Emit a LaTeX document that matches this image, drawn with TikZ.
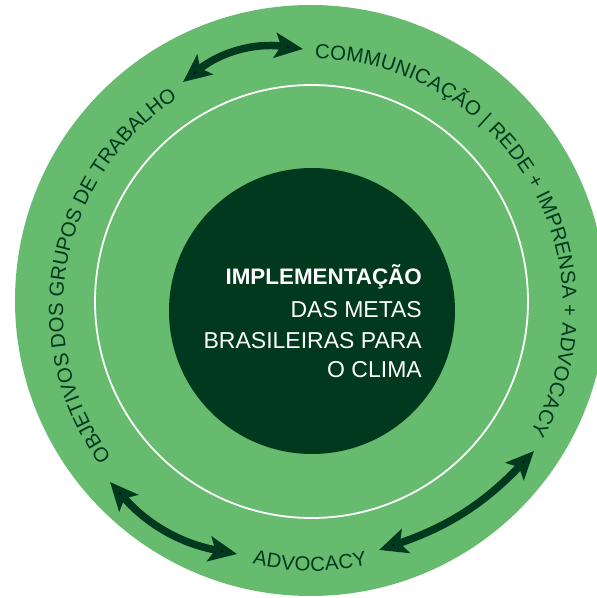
\documentclass[tikz,border=0pt]{standalone}
\usepackage{fontspec}
\setmainfont{Liberation Sans}
\usetikzlibrary{arrows.meta,decorations.text}
\definecolor{ringgreen}{HTML}{66BB6E}
\definecolor{deepgreen}{HTML}{00391D}
\tikzset{
  ringtext/.style={decorate, decoration={text along path, text format delimiters={<}{>},
     text color=deepgreen, text align={fit to path}}},
  twoway/.style={draw=deepgreen, line width=7.5pt,
     {Stealth[length=28pt,width=25pt,inset=6pt]}-{Stealth[length=28pt,width=25pt,inset=6pt]}},
  centertext/.style={text=white, inner sep=0pt, anchor=base east, font=\fontsize{23}{27}\selectfont}
}
\begin{document}
\begin{tikzpicture}[x=1pt,y=1pt]
\useasboundingbox (0,0) rectangle (597,598);
\clip (0,0) rectangle (597,598);
\fill[white] (0,0) rectangle (597,598);
% centres
\coordinate (O) at (310.5,297.5);
\coordinate (W) at (311.5,296.5);
\coordinate (D) at (312,287);
\coordinate (T) at (313,289);
% discs
\fill[ringgreen] (O) circle[radius=295.5];
\draw[white, line width=1.8pt] (W) circle[radius=216.5];
\fill[deepgreen] (D) circle[radius=143];
% central text
\node[centertext, font=\bfseries\fontsize{22.4}{27}\selectfont] (l1) at (422,313) {IMPLEMENTAÇÃO};
\node[centertext] (l2) at (422,280.7) {DAS METAS};
\node[centertext] (l3) at (422,249) {BRASILEIRAS PARA};
\node[centertext] (l4) at (422,220.3) {O CLIMA};
% ring texts
\path[ringtext, decoration={text={<\fontsize{20.4}{24}\selectfont>COMMUNICAÇÃO | REDE + IMPRENSA + ADVOCACY}}]
  ([shift={(89.6:250)}]T) arc[start angle=89.6, end angle=-29.6, radius=250];
\path[ringtext, decoration={text={<\fontsize{20.4}{24}\selectfont>OBJETIVOS DOS GRUPOS DE TRABALHO}}]
  ([shift={(216.3:250)}]T) arc[start angle=216.3, end angle=122.8, radius=250];
\path[ringtext, decoration={text={<\fontsize{20.4}{24}\selectfont>ADVOCACY}}]
  ([shift={(256.6:262)}]T) arc[start angle=256.6, end angle=282.0, radius=262];
% arrows
\coordinate (a1) at (183,516);
\coordinate (b1) at (303,549);
\coordinate (a2) at (110,116);
\coordinate (b2) at (237,44);
\coordinate (a3) at (379,48);
\coordinate (b3) at (534,147);
\draw[twoway] (a1) to[bend left=23] (b1);
\draw[twoway] (a2) to[bend right=19] (b2);
\draw[twoway] (a3) to[bend right=14] (b3);
\end{tikzpicture}
\end{document}
